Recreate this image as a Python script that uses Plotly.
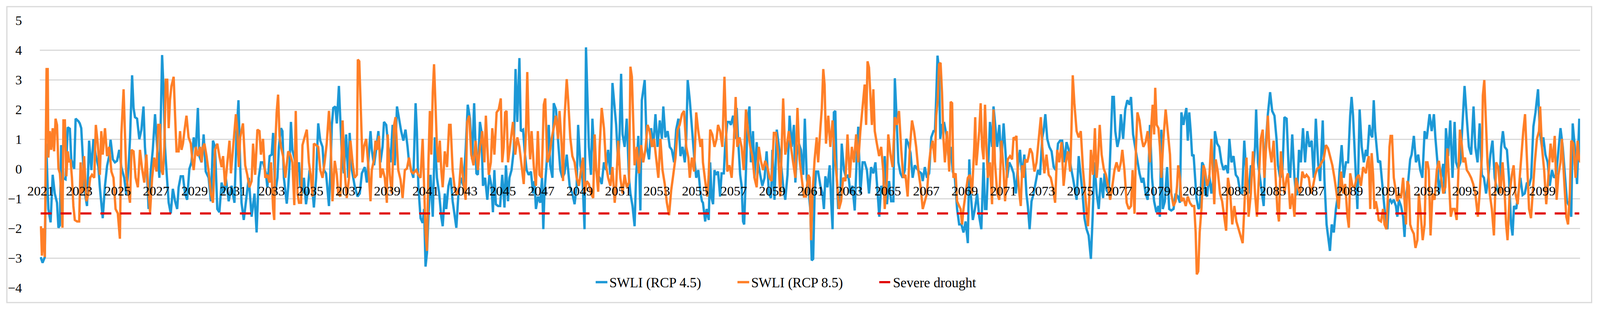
import plotly.graph_objects as go

# ---------------- data (month index counted from Jan 2021, value) ----------------
# SWLI under RCP 4.5
rcp45_points = [
(0,-2.97),(1.2,-3.16),(2.6,-2.97),(3.5,0.85),(4.8,-1.35),(6.2,-1.8),(7.5,-0.2),(8.8,-0.83),(10.2,-1.14),(11.1,-1.98),(12,-1.9),(12.8,0.8),(13.7,-0.3),(15.5,-0.35),(16.9,1.4),(18.2,1.35),(19.1,0.32),(20.9,0.0),(21.8,1.69),(23.6,1.6),(24.4,1.53),(25.3,1.37),(26.2,0.48),(27.6,-0.83),(28.9,-1.25),(30.2,0.95),(31.6,-0.04),(32.9,1.0),(34.3,0.48),(36,0.06),(36.9,-0.62),(38.7,-1.66),(40.1,-0.57),(41.4,0.1),(42.7,0.43),(43.6,0.98),(45,0.32),(46.3,0.22),(47.6,0.27),(49,0.64),(50.3,0.06),(52.1,-0.3),(53.4,-0.88),(54.8,0.06),(55.7,1.0),(57,3.15),(57.9,2.05),(58.8,1.74),(60.1,1.69),(61.5,1.0),(62.8,1.32),(64.1,2.1),(65,0.74),(66.4,-0.3),(67.3,-1.35),(68.6,-0.09),(69.9,0.64),(71.3,1.84),(72.6,0.74),(74,-0.3),(74.8,1.48),(75.7,3.83),(76.6,2.68),(77.5,0.74),(78.4,-0.04),(79.8,-1.14),(81.1,-1.5),(82.4,-0.67),(83.8,-1.09),(85.1,-1.35),(86,-0.62),(87.3,-0.25),(88.7,-0.25),(90,-0.83),(91.3,-1.04),(92.7,0.0),(94,0.22),(95.4,1.06),(96.7,0.64),(98,2.05),(98.9,0.43),(100.3,0.22),(101.6,1.16),(102.9,-0.09),(104.7,-0.3),(106.1,-1.09),(107.4,0.95),(108.7,0.74),(110.1,-1.35),(111.4,-1.46),(112.8,-0.46),(114.1,-0.83),(115.4,-0.3),(117.2,-1.09),(119,-0.57),(120.8,-1.14),(122.1,1.16),(123.3,2.31),(124.4,0.1),(125.2,-1.14),(126.6,-1.72),(127.9,-1.09),(129.7,-0.3),(131.5,-1.61),(133.3,-0.83),(134.6,-2.14),(135.9,-0.3),(137.3,0.22),
(138.6,0.22),(140.4,-0.15),(141.3,-0.62),(142.7,0.43),(144,0.48),(144.9,1.21),(146.2,-0.83),(147.6,-0.3),(148.5,0.74),(149.8,1.37),(150.7,1.27),(151.6,-0.3),(152.5,-0.83),(153.4,-1.17),(154.3,-0.62),(155.2,0.22),(156,1.58),(156.9,0.64),(158.3,0.32),(159.6,-0.15),(161,0.22),(161.8,-0.57),(163.2,-0.83),(164.1,-0.3),(165.4,-1.19),(166.3,-0.83),(167.6,-0.04),(169,-0.41),(170.3,-1.3),(171.7,-0.3),(173,1.53),(174.3,0.95),(175.7,0.74),(176.6,-0.04),(177.9,-0.15),(179.7,-1.25),(180.6,-0.09),(181.5,1.48),(182.4,2.05),(183.7,2.1),(184.6,1.53),(185.9,2.79),(186.8,1.63),(187.7,0.53),(189,-0.15),(190.4,1.16),(191.7,-0.3),(192.6,1.21),(194,-0.04),(195.7,-0.57),(197.5,-0.93),(198.9,-0.83),(200.2,-0.15),(202,0.06),(203.3,-0.46),(204.7,0.64),(205.6,1.27),(206.4,0.64),(207.8,0.12),(209.1,0.64),(210.5,1.27),(211.8,0.22),(213.1,0.74),(214,1.58),(215.4,1.48),(216.7,0.74),(218,0.22),(219.4,1.48),(220.7,0.12),(222.1,2.1),(223.4,1.69),(224.7,1.27),(226.1,0.95),(227.4,1.32),(228.7,0.74),(229.6,0.22),(231,-0.04),(232.3,-0.3),(233.7,2.21),(234.5,1.27),(235.4,-0.57),(236.8,-1.66),(238.1,-1.82),(239,-1.35),(239.9,-3.29),(240.8,-2.82),(241.7,-1.61),(243,-0.2),(244.4,-1.61),(245.7,1.06),(247,-0.3),(248.4,-0.83),(249.7,-1.61),(250.6,-1.93),(251.9,-0.83),(252.8,-1.35),(254.2,-0.57),(255.5,-0.3),(256.8,-1.09),(258.2,-1.61),(259.1,-1.98),(260.4,-0.83),(261.8,-0.3),(263.5,-0.57),(264.9,0.64),(266.2,2.16),(267.6,1.69),(268.9,0.32),(270.2,2.21),(271.6,-0.15),(272.5,-0.2),(273.8,1.58),(274.7,1.27),
(275.7,-0.57),(277,-0.3),(278.4,-1.04),(279.7,-0.2),(281,-0.57),(281.9,-1.46),(282.8,-0.04),(283.7,-1.19),(285.1,-1.25),(286.4,-1.25),(287.7,-0.2),(289.1,-1.3),(290,0.12),(291.3,-1.09),(292.2,-0.3),(293.5,-0.04),(294.9,0.64),(296,3.36),(297.1,1.58),(298.4,3.73),(299.3,1.27),(300.7,1.32),(301.6,0.64),(302.9,-0.04),(304.2,-0.2),(305.6,-0.09),(306.9,-0.83),(307.8,-0.41),(308.7,-1.35),(310,-0.93),(311.4,-1.14),(312.5,-0.3),(313.3,-2.03),(314,-0.83),(315.4,0.22),(316.7,1.48),(317.6,0.12),(319,-0.3),(319.8,2.21),(321.2,2.0),(322.5,0.95),(323.9,-0.04),(325.2,-0.3),(326.5,-0.15),(327.9,0.48),(329.7,-0.57),(331.4,-0.83),(332.8,-1.19),(334.1,-0.57),(335,1.48),(336.4,0.12),(337.7,-0.3),(339,-2.03),(339.9,4.09),(340.8,2.42),(341.7,0.74),(343,-0.2),(343.9,1.69),(345.3,0.22),(346.6,-0.15),(348.4,-0.3),(349.7,-0.51),(351.1,0.22),(352.4,-0.04),(353.7,0.64),(355.1,-0.2),(356.4,2.89),(357.3,2.31),(358.7,1.48),(360,0.12),(360.9,1.27),(361.8,3.2),(362.7,1.16),(364,0.74),(365.3,1.69),(366.7,-0.3),(367.6,-0.83),(368.9,-1.25),(370.2,-1.93),(371.1,-0.3),(372.5,1.11),(373.8,-1.4),(374.7,2.31),(376.5,2.99),(377.8,0.74),(379.2,0.32),(380.5,1.37),(381.8,0.74),(383.2,1.84),(384.5,0.74),(385.9,1.63),(387.2,1.01),(388.1,2.1),(389.4,1.06),(390.8,1.27),(392.1,0.74),(393.4,0.64),(394.8,0.22),(396.1,1.32),(397.5,1.69),(398.8,0.43),(400.1,0.74),(401.5,0.22),(402.4,1.01),(403.3,2.99),(404.6,2.31),(405.9,1.27),(407.3,0.43),(408.6,-0.3),(409.9,-0.04),(411.3,-0.83),(412.2,-1.09),
(412.8,-1.14),(414.2,-1.77),(415.1,-1.35),(416.4,-1.72),(417.3,0.22),(418.2,-0.98),(419.1,-1.19),(420,-0.04),(420.8,-0.2),(422.2,-0.09),(423.5,-0.93),(424.4,-0.15),(425.8,-0.15),(426.6,0.74),(428,1.58),(429.3,1.58),(430.2,1.48),(431.6,1.79),(432.9,1.01),(433.8,2.05),(434.7,1.01),(436,-0.2),(436.9,-0.57),(437.8,-1.77),(438.5,-1.87),(439.6,0.22),(440.7,1.69),(441.8,2.1),(442.7,0.22),(444,1.27),(444.9,-0.3),(446.3,0.9),(447.2,0.22),(448.5,-0.2),(449.8,-0.57),(451.2,-0.3),(452.5,0.59),(453.9,-0.83),(455.2,-0.98),(456.1,0.64),(457.4,-1.04),(458.8,1.32),(460.1,0.74),(461.4,0.22),(462.8,-0.57),(464.1,-1.04),(465.5,-0.2),(466.8,1.79),(468.1,0.74),(469.5,1.48),(470.4,-0.46),(471.3,0.48),(472.6,0.85),(473.9,0.64),(475.3,-0.2),(476.3,1.69),(477.5,-0.3),(478.8,-0.83),(479.7,-1.35),(480.6,-3.08),(481.5,-3.03),(482.4,-0.83),(483.3,-0.09),(484.6,-0.09),(486,-0.57),(487.3,-0.83),(488.2,-1.35),(489.1,-0.25),(490.4,-0.62),(491.8,0.12),(492.7,-1.09),(493.6,-2.03),(494.4,1.9),(495.3,1.95),(496.2,-0.3),(497.1,-1.35),(498.5,-0.83),(499.3,0.85),(500.7,-0.04),(502,-0.3),(503.4,-0.2),(504.7,-0.83),(506,-0.57),(507.4,-1.4),(508.7,0.43),(509.6,1.42),(510.9,-0.83),(512.3,0.22),(513.6,0.22),(515,-0.04),(516.3,-0.83),(517.6,0.06),(519,-0.15),(520.3,0.22),(521.7,-0.83),(522.7,-1.61),(523.9,-0.57),(525.2,-0.83),(526.1,0.43),(527.5,-1.19),(528.8,-0.41),(530.1,-1.09),(531.5,-1.09),(532.4,3.05),(533.3,1.95),(534.6,0.22),(535.9,-0.15),(537.3,-0.3),(538.6,-0.04),(539.5,1.01),(540.8,0.85),(542.2,0.53),(543.5,-0.3),(544.8,0.12),(546.2,0.01),(547.5,-0.09),(548.9,-0.15),(549.8,-0.41),
(551.1,0.06),(552.4,-0.3),(553.8,-0.15),(555.1,1.06),(556.5,1.27),(557.4,1.27),(558.2,2.42),(559,3.81),(559.9,3.36),(560.7,1.01),(561.8,1.48),(563.2,1.53),(564.5,1.16),(565.8,0.43),(567.2,0.74),(568.5,-0.09),(569.8,-0.3),(571.2,-1.35),(572.5,-1.87),(573.9,-1.87),(575.2,-2.14),(576.5,-1.77),(577.9,-2.5),(578.8,0.32),(579.7,-0.83),(581,-1.72),(582.3,-1.35),(583.7,-0.83),(585,-1.61),(586.3,-2.03),(587.7,0.22),(588.6,-1.35),(589.5,-1.35),(590.8,0.22),(591.7,1.58),(593,0.74),(593.9,2.1),(594.8,1.58),(596.2,0.74),(597.5,1.48),(598.8,0.22),(600.2,1.53),(601.1,0.74),(602.4,-0.3),(603.7,0.22),(605.1,0.06),(606.4,-0.15),(607.8,-0.83),(609.1,0.06),(610.4,0.64),(611.8,-0.3),(613.1,0.48),(614.4,-0.83),(615.3,-1.25),(616.4,-2.03),(617.6,-1.09),(618.9,-0.83),(620.2,-0.41),(621.6,-0.04),(622.9,-0.2),(624.3,1.06),(625.1,1.27),(626.2,1.84),(627.4,1.01),(628.7,0.74),(630.1,0.59),(631.4,0.06),(632.7,-0.04),(634.1,0.85),(635.4,0.95),(636.7,0.95),(638.1,0.22),(639.4,0.9),(640.8,0.64),(642.1,0.06),(643.4,-0.3),(644.8,-0.83),(645.7,-1.04),(647,0.43),(647.9,-0.04),(649.2,-0.72),(650.6,-1.66),(651.9,-2.03),(653.2,-2.24),(654.6,-3.03),(655.7,-1.61),(656.8,0.22),(658.2,-0.83),(659.5,-1.35),(660.8,-0.3),(662.2,-0.98),(663.1,-0.15),(664.4,-0.72),(665.7,-0.83),(667.1,1.27),(668,2.42),(668.9,2.42),(669.8,1.27),(671.1,0.74),(672.4,1.06),(673.3,1.84),(674.7,1.01),(676,2.0),(677.3,2.31),(678.7,2.16),(679.6,2.42),(680.9,1.16),(682.2,0.74),(683.6,0.22),(684.9,-0.15),(686.3,-0.46),
(687.3,-0.3),(688.7,-0.83),(690,-1.04),(691.4,1.48),(692.7,-0.3),(694,-1.09),(695.4,-1.46),(696.7,-1.25),(697.6,-1.61),(698.5,1.32),(699.4,-1.35),(700.7,-1.09),(702.1,0.06),(703.4,-1.35),(704.7,-1.4),(706.1,-1.35),(707.4,-0.83),(708.8,-0.93),(710.1,-1.14),(711,1.9),(712.3,1.48),(713.2,1.79),(714.1,2.05),(715,0.95),(715.9,1.9),(716.8,1.27),(717.7,0.43),(718.6,0.48),(719.5,-0.2),(720.4,-0.98),(721.7,-1.35),(722.6,-1.25),(723.9,0.22),(724.8,0.12),(725.7,-0.83),(727,-0.93),(728.4,-0.2),(729.7,-0.83),(731.1,-0.3),(731.9,1.27),(733.3,0.85),(734.6,0.74),(736,0.22),(737.3,-0.04),(738.6,0.12),(740,-0.15),(740.9,1.01),(742.2,0.22),(743.5,0.43),(744.9,-0.2),(746.2,-0.3),(747.6,-0.77),(748.9,-0.83),(750.2,0.95),(751.6,-0.3),(752.9,-0.83),(754.3,0.12),(755.6,-0.15),(756.9,0.74),(757.6,2.0),(758.7,0.22),(760.1,-0.3),(761.4,-0.88),(762.3,-1.25),(763.6,0.85),(764.9,1.84),(766.3,2.58),(767.6,1.95),(769,1.79),(770.3,1.01),(771.2,0.12),(772.5,-0.3),(773.9,-0.2),(775.2,1.74),(776.6,1.69),(777.9,-0.04),(778.8,-0.3),(780.1,1.16),(781.5,-0.3),(782.4,-0.83),(783.2,-0.88),(784.3,0.64),(785.5,0.22),(786.8,1.37),(788.1,0.22),(789.5,1.27),(790.8,0.74),(792.2,0.95),(793.5,-0.3),(794.8,1.69),(796.2,0.22),(797.5,-0.41),(799.1,1.63),(800.2,-0.41),(801.5,-1.87),(802.7,-2.4),(803.6,-2.76),(804.7,-1.87),(806,-2.14),(807.3,-1.35),(808.7,-0.83),(809.6,-0.04),(810.9,0.8),(812.2,-0.3),(813.6,0.22),(814.9,0.22),(816.2,1.79),(817.1,2.42),(818,1.79),(818.9,0.74),(819.8,-0.3),(820.7,-1.35),(822.1,2.0),(823.4,0.74),(824.7,0.22),
(826,0.64),(826.9,0.43),(828.2,1.48),(829.1,1.16),(830,1.06),(830.9,2.31),(831.8,1.27),(832.7,0.74),(833.6,0.22),(834.9,0.27),(835.8,-0.3),(836.7,-0.83),(837.6,-1.35),(838.5,-1.87),(839.4,-2.03),(840.3,-1.09),(841.2,-1.04),(842.1,-1.14),(843.4,-1.04),(844.7,-1.25),(845.6,-1.61),(846.5,-1.04),(847.9,-1.25),(849.2,-1.61),(850.1,-2.29),(851.2,-0.83),(852.3,-0.46),(853.6,0.32),(854.5,0.48),(855.9,1.11),(857.2,0.22),(858.6,0.48),(859.9,-0.04),(861.2,-0.3),(862.6,1.27),(863.9,1.01),(864.8,1.42),(865.7,1.84),(867,1.27),(868.4,1.84),(869.3,1.06),(870.6,0.22),(871.5,-0.83),(872.8,-0.3),(874.2,0.17),(875.1,-0.83),(875.9,1.37),(877.3,0.43),(878.6,1.63),(880,-0.3),(881.3,1.58),(882.2,0.22),(883.5,0.01),(884.9,0.22),(886.4,1.69),(887.5,2.79),(888.9,1.69),(890.2,0.74),(891.6,0.48),(893.1,2.1),(894.2,0.74),(895.6,0.22),(896.9,1.53),(898.3,-0.2),(899.6,-0.3),(900.9,-0.83),(902.3,-0.3),(903.6,0.48),(904.9,0.95),(906.3,-0.3),(907.6,-0.67),(909,-0.83),(910.3,0.74),(911.4,1.27),(912.5,0.74),(913.9,0.64),(915.2,-0.3),(916.5,-1.87),(917.4,-2.24),(918.3,-1.25),(919.7,-1.35),(921,-0.83),(922.3,-0.3),(923.7,-0.88),(925,-0.83),(926.4,-0.46),(927.7,-0.57),(929,-0.3),(930.4,1.42),(931.7,1.9),(933.3,2.68),(934.4,1.27),(935.7,0.74),(936.6,1.06),(937.9,0.48),(939.3,0.22),(940.6,-0.57),(942,-0.04),(943.3,-0.3),(944.6,-0.2),(946,0.53),(947.3,1.37),(948.7,0.74),(950,-0.2),(951.3,-1.09),(952.7,-1.25),(954,-1.61),(954.9,1.53),(956.2,0.74),(957.6,-0.51),(958.5,0.74),(959,1.69),(959.8,0.32),
]

# SWLI under RCP 8.5
rcp85_points = [
(0.2,-1.93),(0.8,-2.92),(1.7,-2.0),(2.6,-2.97),(3.2,0.74),(3.7,3.36),(4.4,3.36),(4.8,0.38),(5.7,1.27),(6.6,0.64),(7.5,1.37),(8.4,0.59),(9.3,1.69),(10.2,1.48),(11.1,0.01),(12,-0.15),(12.8,-0.83),(13.6,-1.98),(14.2,1.63),(15.1,1.63),(16,-0.25),(16.9,0.59),(17.8,0.22),(18.6,0.32),(19.5,-0.3),(20.4,-1.25),(21.3,-1.72),(22.7,-1.77),(24,-1.77),(24.9,0.22),(25.8,-0.83),(27.1,0.43),(28.5,-1.09),(29.8,-0.83),(30.9,-0.3),(32,-0.2),(33.4,-0.3),(34.4,1.48),(35.6,0.85),(36.9,-0.2),(37.8,1.27),(38.7,0.48),(40.1,1.37),(41.4,0.43),(42.7,0.74),(44.1,-0.09),(45.4,-0.3),(46.7,-1.35),(48.1,-1.5),(49.4,-2.35),(50.3,1.16),(51.7,2.68),(52.5,1.27),(53.4,-0.2),(54.8,-0.83),(55.7,-1.14),(56.6,0.64),(57.9,0.59),(59.2,-0.3),(60.6,-0.62),(61.9,0.64),(63.2,0.01),(64.6,-0.46),(65.9,0.48),(66.8,-0.41),(68.2,-1.46),(69.5,-0.3),(70.8,0.38),(72.2,-0.09),(73.3,1.48),(74.4,1.48),(75.3,-0.04),(76.2,-0.2),(77.1,0.74),(78,3.0),(78.9,3.0),(79.8,1.37),(80.6,2.31),(81.5,2.78),(82.9,3.1),(83.8,1.79),(84.7,0.59),(86,0.59),(86.9,1.27),(87.8,0.64),(88.7,0.85),(89.6,1.27),(90.9,1.79),(92.2,1.06),(93.6,0.85),(94.5,0.32),(95.4,-0.04),(96.7,0.74),(98,0.43),(99.4,0.74),(100.3,0.22),(101.2,0.74),(102.1,0.85),(103.4,0.43),(104.7,-0.09),(106.1,-0.83),(107.4,-1.14),(108.7,0.64),(110.1,0.85),(111.4,0.43),(112.8,0.06),(113.7,0.43),(115,-0.57),(116.3,0.17),(117.7,0.95),(118.6,-0.15),(119.9,0.74),(121.7,1.84),(122.6,1.27),(123.5,0.06),(124.4,1.06),(126.1,1.53),(127.5,0.12),(128.8,-0.2),(130.1,-0.62),(131.5,-0.41),(132.4,0.85),(133.7,-0.2),(135.1,1.32),(136.4,1.27),(137.3,0.48),
(138.6,1.01),(140,-0.3),(141.3,-0.2),(142.7,-0.46),(143.6,0.22),(144.9,-1.35),(145.6,-1.72),(146.2,0.74),(147.1,1.9),(148,2.5),(148.9,1.11),(149.8,0.74),(151.1,0.43),(152.5,-0.3),(153.4,0.22),(154.3,0.59),(155.6,0.48),(156.9,0.22),(158.1,-1.22),(159,1.95),(160.1,-0.83),(161,-1.14),(162.3,-1.14),(163.2,0.8),(164.5,1.06),(165.9,1.32),(167.2,0.22),(168.5,-0.3),(169.4,-0.93),(170.3,0.85),(171.7,0.8),(173,0.74),(174.3,-0.04),(175.7,-0.3),(177,0.22),(178.3,0.85),(179.7,1.95),(180.6,1.16),(181.9,-1.09),(183.3,0.27),(184.6,-0.2),(185.5,-0.83),(186.8,-0.93),(188.2,1.63),(189.5,-0.09),(190.8,-0.98),(192.2,-0.3),(193.1,0.95),(194.4,0.22),(195.7,-0.3),(197.1,-0.2),(197.7,3.68),(198.6,3.62),(199.5,1.79),(200.6,0.22),(201.5,0.74),(202.9,1.01),(204.2,0.12),(205.6,-1.09),(206.4,-0.04),(207.8,0.32),(208.7,0.95),(209.6,0.64),(210.9,1.11),(211.8,-0.3),(213.1,0.01),(214.5,-0.3),(215.8,-1.14),(216.3,1.16),(217.6,-0.2),(218.9,-0.83),(220.3,1.48),(221.2,1.74),(222.1,0.74),(222.9,-0.04),(224.3,-0.36),(225.6,-0.98),(227,-0.04),(228.3,0.01),(229.6,0.38),(231,-0.09),(232.3,-0.15),(234.1,-0.04),(235.4,-0.2),(236.8,-0.3),(238.1,1.01),(239,-0.57),(239.9,-2.14),(240.8,-2.76),(241.7,0.22),(242.6,1.95),(243.5,0.48),(244.4,2.58),(245.2,3.52),(246.1,2.16),(247,0.74),(247.9,0.22),(248.8,0.95),(249.7,-0.04),(250.6,-0.62),(251.9,0.59),(253.3,0.06),(254.6,1.48),(255.5,1.48),(256.8,-0.04),(258.2,-0.72),(259.5,-0.88),(260.9,-0.57),(262.2,0.38),(263.5,-0.46),(264.9,-1.04),(265.8,1.58),(267.1,1.79),(268.4,0.48),(269.8,0.12),(271.1,0.95),(272.5,-0.04),(273.8,0.74),(274.7,1.01),
(275.2,1.27),(276.6,0.22),(277.5,1.79),(278.4,0.74),(279.3,-0.2),(280.6,0.22),(281.5,1.37),(282.8,0.48),(284.2,1.9),(285.5,2.0),(286.8,2.37),(287.7,0.22),(288.6,0.74),(289.5,1.9),(290.4,1.95),(291.3,0.22),(292.6,0.85),(294.4,1.58),(295.8,0.48),(297.1,1.06),(298.4,0.74),(299.8,0.12),(301.1,-0.51),(302.5,1.27),(303.3,3.26),(304.2,1.27),(305.1,0.32),(306,1.27),(307.4,0.06),(308.7,-0.57),(309.9,1.27),(310.9,-0.2),(312.3,-0.3),(313.6,2.16),(314.5,2.37),(315.8,0.22),(317.2,0.48),(318.5,1.01),(319.8,1.42),(321.2,1.79),(322.5,1.01),(323.4,1.95),(324.8,0.74),(325.6,-0.41),(326.5,1.69),(327.9,3.02),(328.8,2.31),(330.1,1.06),(331.4,0.43),(332.8,0.22),(334.1,-0.3),(335.5,-0.57),(336.8,-0.04),(338.1,0.38),(339,-0.83),(340.4,-0.41),(341.7,-0.51),(343,-0.83),(344.4,-0.98),(345.3,1.16),(346.2,0.06),(347.5,-0.77),(348.4,0.74),(349.7,2.05),(351.1,1.37),(352.4,0.12),(353.7,-0.3),(355.1,-0.57),(356.4,0.06),(357.8,-1.14),(358.7,-0.57),(360,0.95),(361.3,-0.3),(362.7,-0.83),(364,-0.2),(365.3,-0.62),(366.7,-0.46),(367.6,3.44),(368.5,3.1),(369.4,1.27),(370.2,0.12),(371.6,0.74),(372.9,-0.15),(374.3,0.8),(375.6,0.22),(376.9,0.64),(378.3,1.48),(379.6,1.27),(381,0.74),(382.3,1.01),(383.6,0.43),(385,-0.3),(386.3,1.01),(387.6,-0.04),(389,-0.51),(390.3,-1.14),(391.7,-1.56),(393,-0.72),(394.3,-0.2),(395.7,0.38),(397,1.32),(398.3,1.48),(399.7,1.84),(401,1.95),(402.4,0.74),(403.7,0.38),(404.6,-0.3),(405.9,0.38),(407.3,-0.09),(408.6,1.9),(409.9,1.27),(411.3,0.74),(412.2,1.01),
(412.8,0.22),(414.2,-0.41),(415.5,-0.93),(416.4,-0.2),(417.3,1.32),(418.6,1.16),(420,0.74),(421.3,1.01),(422.2,1.48),(423.5,1.27),(424.9,0.74),(426.2,3.1),(427.1,1.27),(428,-0.09),(429.3,0.12),(430.7,-0.3),(432,0.85),(433.2,2.42),(434.2,0.74),(435.6,1.06),(436.9,0.74),(438.2,-0.04),(439.6,2.0),(440.9,1.27),(442.3,0.74),(443.6,0.43),(444.9,-0.3),(446.3,-0.62),(447.6,0.74),(448.9,0.27),(450.3,-0.04),(451.6,0.27),(453,0.06),(454.3,-0.3),(455.6,-0.41),(457,1.21),(458.3,1.21),(459.7,0.48),(461,-0.93),(461.9,0.95),(462.8,2.37),(464.1,0.48),(465,0.74),(466.3,1.27),(467.7,0.64),(469,0.22),(470.4,-0.3),(471.7,2.05),(473,0.32),(474.4,-0.3),(475.7,-0.93),(477,-0.93),(478.4,-0.2),(479.3,-0.3),(480.2,-2.4),(481.1,-0.83),(482.4,0.32),(483.7,1.06),(484.6,0.22),(486,1.37),(486.9,2.05),(487.8,3.36),(488.6,2.84),(489.5,0.85),(490.9,1.79),(492.2,0.74),(493.6,1.63),(494.9,0.43),(496.2,-0.3),(497.6,-1.35),(498.9,-1.09),(500.2,-0.3),(501.6,-0.41),(502.9,1.16),(504.3,-0.3),(505.6,0.74),(506.9,0.22),(508.3,1.16),(509.6,0.22),(510.9,1.27),(512.3,2.0),(513.6,2.84),(514.5,1.48),(515.4,3.62),(516.3,3.41),(517.2,2.58),(518.1,1.48),(519,2.68),(519.9,1.27),(521.2,0.85),(522.6,0.43),(523.9,0.74),(525.2,-0.09),(526.1,-1.35),(527.5,-0.3),(528.3,1.16),(529.7,0.48),(531,0.06),(532.4,1.74),(533.7,1.48),(535,1.95),(536.4,0.64),(537.7,-0.3),(539,-0.2),(540.4,-0.93),(541.7,0.64),(543.1,1.63),(544.4,1.27),(545.7,0.74),(547.1,-0.09),(548.4,-0.57),(549.8,-1.35),
(551.1,-1.09),(552.4,-0.83),(553.8,0.22),(554.7,0.64),(556,0.95),(557.4,0.22),(558.2,1.79),(559.1,2.31),(560,3.52),(560.9,3.57),(561.8,2.58),(562.7,1.01),(563.6,0.22),(564.9,1.27),(566.3,-0.09),(567.2,2.26),(568.1,2.21),(568.9,-0.3),(570.3,-0.15),(571.2,-1.09),(572.5,-1.25),(573.4,-1.35),(574.3,-1.87),(575.2,-1.35),(576.5,-0.83),(577.9,-0.3),(579.2,-0.2),(580.5,-0.83),(581.9,0.74),(582.5,1.74),(583.2,0.12),(584.1,0.74),(585,1.27),(585.9,2.21),(586.8,0.74),(587.7,0.32),(588.6,2.16),(589.5,0.74),(590.4,-0.3),(591.7,0.22),(593,-1.19),(593.9,2.0),(594.8,0.22),(596.2,-0.83),(597.5,-1.04),(598.8,0.95),(600.2,-0.09),(601.1,-1.09),(602,-0.2),(602.8,0.32),(604.2,0.43),(605.5,0.32),(606.4,1.06),(607.3,1.01),(608.2,1.11),(609.1,-0.2),(610,-0.83),(610.9,-1.25),(611.8,0.12),(612.7,-0.3),(613.6,0.32),(614.9,0.22),(615.8,0.43),(616.7,0.69),(618,0.53),(619.4,-0.09),(620.7,0.22),(622,1.06),(623.4,1.74),(624.3,0.74),(625.6,-0.15),(626.9,0.48),(628.3,-0.2),(629.6,-0.3),(630.9,-0.62),(632.3,-1.14),(633.6,0.64),(634.9,0.22),(636.3,0.9),(637.6,-0.57),(639,0.22),(640.3,0.59),(641.7,-0.09),(642.5,1.37),(643.3,3.15),(644.3,2.21),(645.7,1.27),(647,1.06),(648.3,1.27),(649.7,-0.04),(651,-0.83),(651.9,-1.46),(652.8,-1.93),(653.7,-0.83),(654.6,0.64),(655.9,-0.2),(657.1,1.37),(658.2,-0.3),(659,0.22),(660.1,1.48),(661.3,0.48),(662.6,0.01),(664,-0.2),(665.3,-0.57),(666.6,-1.04),(668,-0.57),(669.3,-0.04),(670.6,0.22),(672,-0.09),(673.3,0.22),(674.2,0.64),(675.5,-0.04),(676.9,-1.14),(678.2,-1.35),(679.6,-1.25),(680.6,-0.04),(681.8,-1.51),(682.7,0.74),(683.6,1.9),(684.9,1.63),(686.3,1.01),
(687.3,0.74),(688.7,0.9),(690,1.27),(691.4,0.22),(692.3,1.48),(693.1,2.16),(694,1.16),(694.7,2.73),(695.6,1.48),(696.7,1.37),(697.6,0.74),(698.5,-0.3),(699.8,1.01),(701.2,2.0),(702.5,1.27),(703.9,0.48),(704.7,-0.83),(706.1,-1.25),(707.4,-1.09),(708.3,-0.57),(709,0.12),(710.1,-0.3),(711,-1.09),(712.3,-0.98),(713.7,-1.25),(715,-0.93),(716.3,-1.14),(717.7,-1.25),(719,-1.25),(719.9,-2.14),(720.6,-3.55),(721.5,-3.45),(722.4,-2.14),(723.5,-1.35),(724.8,0.12),(725.7,-0.04),(727,-0.57),(728.4,-0.3),(729.7,1.01),(730.6,-0.2),(731.5,-1.19),(732.4,0.32),(733.7,-0.09),(735.1,-0.83),(736.4,-1.09),(737.7,-1.61),(738.9,-2.08),(740,-0.3),(741.3,-0.72),(742.7,-1.87),(744,-1.25),(745.3,-1.77),(746.7,-2.03),(748,-2.24),(749.2,-2.5),(750.2,-1.35),(751.6,0.38),(752.9,-1.61),(754.3,-0.83),(755.6,0.59),(756.9,-0.83),(758.1,-1.61),(759.2,-0.3),(760.5,1.01),(761.7,1.32),(762.7,-0.3),(764.1,1.01),(764.9,1.79),(765.8,0.74),(767.2,0.22),(768.5,0.95),(769.9,-0.3),(770.8,-1.35),(771.8,-1.77),(773,0.59),(773.9,-0.04),(775.2,-0.83),(776.6,-0.3),(777.4,-0.15),(778.8,-1.35),(780.1,-0.83),(781.5,-1.61),(782.4,-0.3),(783.7,-0.62),(785,-0.83),(786.4,-0.09),(787.7,-0.3),(789,-0.2),(790.4,-0.3),(791.7,-0.83),(793.1,-0.57),(794.4,-0.2),(795.7,0.01),(797.1,0.06),(798.4,0.22),(799.7,0.32),(801.1,0.8),(802.4,0.69),(803.8,0.43),(805.1,0.12),(806.4,-0.3),(807.8,-0.83),(809.1,-1.35),(810.5,-0.09),(811.8,-0.83),(813.1,-0.51),(814.5,-1.61),(815.4,-1.98),(816.2,-0.15),(817.6,-0.57),(818.9,-0.62),(820.3,-0.3),(821.6,-0.2),(822.9,-0.57),(824.3,0.06),
(826,-0.15),(826.9,0.22),(827.8,0.43),(828.7,-1.35),(829.6,0.53),(830.5,-0.2),(831.3,-1.35),(832.2,-1.09),(833.1,-1.35),(834,-1.72),(835.4,-1.77),(836.7,-1.35),(837.6,-1.87),(838.8,-2.03),(839.8,-0.83),(840.7,0.74),(841.4,1.11),(842.3,1.11),(843.4,-0.3),(844.7,-0.83),(845.6,-1.09),(847,-0.83),(847.9,-0.98),(849.2,-0.3),(850.1,-1.14),(851,-1.87),(851.9,-0.41),(852.8,-0.57),(853.6,-1.87),(854.5,-2.03),(855.9,-2.19),(856.9,-2.66),(858.1,-2.4),(859,-0.83),(860.3,-1.61),(861.4,-2.4),(862.6,-1.87),(863.5,0.22),(864.4,0.22),(865.2,-0.04),(866.3,-2.24),(867.5,-0.83),(868.8,-1.04),(870.2,-0.04),(871.5,0.27),(872.8,-0.3),(874.2,-0.83),(875.5,-0.62),(876.8,0.69),(877.7,-0.3),(878.9,-1.61),(880,-1.35),(881.3,-1.35),(882.6,-1.72),(883.5,-0.2),(884.6,1.32),(885.8,0.8),(886.7,0.22),(887.8,0.38),(888.9,-0.04),(890.2,-0.15),(891.6,-0.3),(892.9,-0.51),(894.2,-0.83),(895.8,-1.61),(896.9,-0.83),(898.3,0.43),(898.9,2.47),(899.8,2.99),(900.7,1.79),(901.8,0.22),(903.2,-0.83),(904.5,-1.35),(905.8,-2.24),(907.2,0.22),(908.5,0.06),(909.8,-0.83),(911.2,0.22),(912.5,-0.83),(913.4,-1.87),(914.3,-2.4),(915.6,-0.83),(917,-0.2),(918.1,0.12),(919.2,-0.83),(920.6,-1.19),(921.9,-0.2),(923.2,0.74),(924.1,1.27),(925.2,1.84),(926.4,0.22),(927.7,-1.35),(928.9,-1.66),(929.9,-0.83),(931.3,0.22),(932.6,1.01),(933.9,1.27),(934.6,2.1),(935.7,0.74),(937.1,-0.04),(938.4,-1.19),(939.7,-0.3),(941.1,0.85),(942.4,0.22),(943.7,1.11),(944.9,-1.04),(946,-0.2),(947.3,0.22),(948.2,1.01),(949.5,-0.3),(950.9,-1.61),(952,-1.87),(953.1,-0.83),(954,0.95),(955.3,0.85),(956.7,-0.3),(958,0.95),(958.9,0.32),(959.8,0.22),
]

severe_drought_level = -1.5
first_month, last_month = 0, 959          # Jan 2021 .. Dec 2100
tick_years = list(range(2021, 2100, 2))   # category labels every 2 years
y_min, y_max = -4, 5

series_names = ["SWLI (RCP 4.5)", "SWLI (RCP 8.5)", "Severe drought"]
colors = ["#1C98D6", "#FF7F27", "#E00000"]

# ---------------- figure ----------------
# The browser viewport is 4096 px wide, so the 4284-px layout is compressed
# horizontally to fit it exactly (vertical layout unchanged).
W, H = 4096, 793

m45 = [p[0] for p in rcp45_points]
v45 = [p[1] for p in rcp45_points]
m85 = [p[0] for p in rcp85_points]
v85 = [p[1] for p in rcp85_points]

FONT = "Liberation Serif"

fig = go.Figure()
fig.add_trace(go.Scatter(x=m45, y=v45, mode="lines", name=series_names[0],
                         line=dict(color=colors[0], width=6)))
fig.add_trace(go.Scatter(x=m85, y=v85, mode="lines", name=series_names[1],
                         line=dict(color=colors[1], width=6)))
fig.add_trace(go.Scatter(x=[first_month, last_month],
                         y=[severe_drought_level, severe_drought_level],
                         mode="lines", name=series_names[2],
                         line=dict(color=colors[2], width=5.5, dash="28px,23px")))

fig.update_layout(
    width=W, height=H,
    margin=dict(l=102, r=51, t=52, b=57),
    paper_bgcolor="white", plot_bgcolor="white",
    font=dict(family=FONT, color="black", size=34),
    showlegend=True,
    legend=dict(orientation="h", x=0.3596, xanchor="left", y=0.0205, yanchor="middle",
                font=dict(family=FONT, size=35, color="black"),
                bgcolor="rgba(0,0,0,0)", entrywidth=318, entrywidthmode="pixels"),
    xaxis=dict(range=[first_month - 0.5, last_month + 0.5],
               tickmode="array",
               tickvals=[(y - tick_years[0]) * 12 for y in tick_years],
               ticktext=[str(y) for y in tick_years],
               showgrid=False, zeroline=False, showline=False,
               ticks="outside", ticklen=26, tickcolor="rgba(0,0,0,0)",
               anchor="free", position=(0 - y_min) / (y_max - y_min),
               tickfont=dict(family=FONT, size=34, color="black")),
    yaxis=dict(range=[y_min, y_max], dtick=1, tick0=0,
               showgrid=True, gridcolor="#d9d9d9", gridwidth=2.5,
               zeroline=False, showline=False,
               ticks="outside", ticklen=38, tickcolor="rgba(0,0,0,0)",
               tickfont=dict(family=FONT, size=34, color="black")),
    shapes=[dict(type="rect", xref="paper", yref="paper",
                 x0=-0.0214, x1=1.0075, y0=-0.0556, y1=1.051,
                 line=dict(color="#d9d9d9", width=3), fillcolor="rgba(0,0,0,0)",
                 layer="below")],
)

fig.write_html("out.html",
               config={"displayModeBar": False},
               post_script="document.body.style.margin='0';document.body.style.overflow='hidden';")
